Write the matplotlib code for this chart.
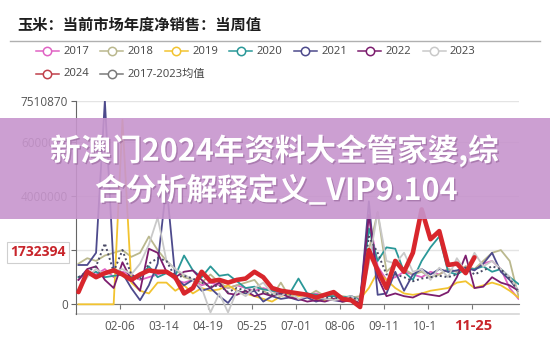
import numpy as np
import matplotlib.pyplot as plt
import matplotlib.patheffects as pe
from matplotlib.lines import Line2D
from matplotlib.patches import Rectangle

plt.rcParams['font.family'] = ['Open Sans', 'Noto Sans CJK SC', 'DejaVu Sans']

MT = 1e6  # values below are in million tonnes

tick_labels = ['02-06', '03-14', '04-19', '05-25', '07-01', '08-06', '09-11', '10-16', '11-20']
current_week = '11-25'

y2017 = [0.9, 1.2, 1.1, 1.3, 1.0, 1.2, 1.1, 0.9, 1.0, 1.1, 1.2, 0.9, 0.8, 0.9, 0.7, 0.8, 0.7,
         0.6, 0.7, 0.6, 0.5, 0.6, 0.5, 0.4, 0.5, 0.4, 0.3, 0.4, 0.3, 0.3, 0.2, 0.3, 0.2, 3.3,
         1.4, 0.9, 1.0, 1.2, 1.1, 1.0, 1.2, 1.1, 1.3, 1.2, 1.4, 1.3, 1.5, 1.6, 1.3, 0.6, 0.2]
y2018 = [1.5, 1.7, 1.6, 1.8, 1.9, 2.0, 1.75, 1.9, 2.5, 2.0, 1.6, 1.3, 1.0, 0.9, 0.8, 1.1, 0.8,
         0.6, 0.7, 0.8, 0.9, 0.5, 0.3, 0.8, 0.25, 0.4, 0.3, 0.5, 0.3, 0.35, 0.3, 0.25, 0.3, 2.0,
         3.4, 1.2, 1.5, 1.3, 1.1, 1.2, 1.0, 1.1, 1.3, 1.2, 1.4, 1.3, 1.6, 1.9, 2.0, 1.6, 0.3]
y2019 = [0.0, 0.0, 0.0, 0.0, 0.0, 6.8, 0.8, 0.5, 0.4, 0.8, 0.8, 0.5, 0.7, 0.4, 0.6, 0.5, 0.55,
         0.7, 0.5, 0.4, 0.3, 0.2, 0.1, 0.3, 0.4, 0.3, 0.35, 0.2, 0.15, 0.2, 0.1, 0.15, 0.2, 0.6,
         1.2, 0.9, 0.6, 0.4, 0.35, 0.4, 0.5, 0.55, 0.6, 0.8, 0.85, 0.6, 0.7, 0.8, 0.7, 0.5, 0.25]
y2020 = [1.0, 1.1, 1.2, 1.0, 1.05, 1.1, 1.0, 1.0, 1.4, 1.0, 1.15, 1.05, 1.8, 1.25, 1.0, 1.4,
         1.05, 1.1, 0.85, 0.6, 0.65, 0.55, 0.5, 0.45, 0.4, 0.95, 0.4, 0.35, 0.3, 0.3, 0.25, 0.3,
         0.15, 2.8, 1.6, 2.1, 2.05, 1.2, 0.9, 1.6, 2.1, 2.5, 1.2, 1.1, 1.3, 1.3, 1.4, 1.2, 1.3,
         1.0, 0.75]
y2021 = [1.45, 1.45, 1.9, 7.51087, 1.3, 1.15, 0.6, 0.15, 0.7, 1.5, 4.4, 1.0, 0.7, 0.9, 0.5,
         0.6, 0.3, 0.05, 0.5, 0.4, 0.5, 0.1, 0.3, 0.2, 0.25, 0.15, 0.25, 0.1, 0.2, 0.15, 0.1,
         0.15, 0.05, 3.8, 0.35, 0.4, 1.2, 0.5, 1.1, 1.3, 1.1, 1.3, 1.2, 1.25, 1.35, 1.25, 1.5,
         1.9, 1.2, 0.9, 0.5]
y2022 = [0.9, 1.3, 1.4, 0.9, 0.6, 1.55, 0.9, 0.5, 2.05, 1.9, 1.2, 1.0, 1.2, 1.25, 0.9, 0.6,
         0.8, 0.4, 0.35, 0.5, 0.3, 0.4, 0.3, 0.4, 0.25, 0.2, 0.1, 0.15, 0.1, 0.2, 0.1, 0.15, 0.05,
         3.3, 1.0, 0.3, 0.4, 0.3, 0.25, 0.4, 0.35, 0.3, 0.45, 1.0, 1.8, 0.6, 0.65, 1.0, 0.8, 0.7,
         0.5]
y2023 = [0.5, 1.0, 1.3, 1.1, 1.2, 1.3, 1.1, 1.5, 2.2, 3.2, 1.6, 1.3, 1.1, 0.9, 0.6, -0.3, 0.4,
         -0.3, 0.5, 0.3, 0.6, 0.8, 0.4, 0.3, 0.5, 0.2, 0.3, 0.25, 0.2, 0.15, 0.2, 0.3, 0.1, 1.5,
         3.4, 1.6, 1.5, 1.9, 1.2, 1.3, 0.9, 1.35, 1.0, 1.7, 1.2, 1.9, 1.4, 1.6, 1.3, 1.0, 0.5]
y2024 = [0.45, 1.2, 1.0, 1.15, 1.25, 1.1, 0.9, 1.1, 1.25, 1.2, 1.2, 1.0, 0.4, 0.6, 1.2, 0.85,
         0.9, 0.8, 0.9, 0.95, 1.2, 1.0, 0.6, 0.5, 0.45, 0.4, 0.35, 0.25, 0.35, 0.45, 0.2, 0.15,
         -0.1, 2.0, 1.25, 0.6, 1.6, 1.2, 1.9, 3.5, 2.4, 2.7, 1.45, 1.5, 1.15, 1.732394]
y_mean = [1.0, 1.2, 1.4, 2.25, 1.2, 2.0, 1.1, 0.9, 1.5, 1.7, 1.6, 1.0, 1.05, 0.95, 0.8, 0.65,
          0.7, 0.45, 0.6, 0.5, 0.55, 0.45, 0.35, 0.4, 0.35, 0.4, 0.3, 0.3, 0.25, 0.25, 0.2, 0.25,
          0.15, 2.5, 1.9, 1.1, 1.1, 1.0, 0.85, 0.95, 1.0, 1.05, 1.0, 1.1, 1.35, 1.1, 1.25, 1.4,
          1.3, 0.95, 0.45]

series = [
    ('2017', y2017, '#e063c4'),
    ('2018', y2018, '#bab88e'),
    ('2019', y2019, '#f2c330'),
    ('2020', y2020, '#2a9898'),
    ('2021', y2021, '#4d4a8c'),
    ('2022', y2022, '#7c1d6e'),
    ('2023', y2023, '#c9c9c9'),
]
red = '#d8262c'
mean_color = '#4a4a66'

W, H = 550, 339
fig = plt.figure(figsize=(W / 100, H / 100), dpi=100)


def fx(px):
    return px / W


def fy(py):
    return 1 - py / H


ax = fig.add_axes([fx(76), fy(314), fx(519) - fx(76), fy(100.7) - fy(314)])

x = np.arange(len(y2017))
x_left = -0.28
for name, vals, col in series:
    ax.plot(x, np.array(vals) * MT, color=col, lw=1.3, zorder=3)
ax.plot(x, np.array(y_mean) * MT, color=mean_color, lw=1.4, ls=(0, (1, 1.4)), zorder=3.5)
ax.plot(x[:len(y2024)], np.array(y2024) * MT, color=red, lw=3.3, zorder=5,
        solid_joinstyle='round', solid_capstyle='round')

ymax = max(y2021) * MT
ybot = -0.358 * MT
ax.set_ylim(ybot, ymax)
ax.set_xlim(x_left, 50.06)

# the 2M label sits under the current-value tag, so it is left blank
ax.set_yticks([0, 2e6, 4e6, 6e6, ymax])
ax.set_yticklabels(['0', '', '4000000', '6000000', '7510870'])
ax.yaxis.grid(True, color='#e4e4e4', lw=1)
ax.set_axisbelow(True)

ax.set_xticks(np.arange(5, 50, 5) + x_left)
ax.set_xticklabels(tick_labels)

for s in ['top', 'right']:
    ax.spines[s].set_visible(False)
ax.spines['left'].set_color('#666666')
ax.spines['bottom'].set_position(('data', 0))
ax.spines['bottom'].set_color('#777777')
ax.axhline(ybot, color='#d6d6d6', lw=1.2, clip_on=False)
ax.tick_params(axis='x', length=3.6, color='#777777', labelsize=8.5, labelcolor='#555555', pad=7.5)
ax.tick_params(axis='y', length=3.6, color='#666666', labelsize=8.5, labelcolor='#555555', pad=2)

# value tag for the current week on the y axis
ax.annotate(f'{int(round(y2024[-1] * MT))}', xy=(0, y2024[-1] * MT),
            xycoords=ax.get_yaxis_transform(), xytext=(-27.5, 3.5), textcoords='offset points',
            ha='center', va='center', fontsize=10, fontweight='bold', color='#c8252b',
            bbox=dict(boxstyle='square,pad=0.22', fc='white', ec='#cfcfcf', lw=0.8), zorder=8,
            annotation_clip=False)

# current week label on the x axis, on a white strip over the regular labels
fig.add_artist(Rectangle((fx(436), fy(334)), fx(74), fy(318) - fy(334), transform=fig.transFigure,
                         facecolor='white', edgecolor='none', zorder=1))
fig.text(fx(473), fy(326), current_week, ha='center', va='center', fontsize=10.5,
         fontweight='bold', color='#c8252b', zorder=2)

# title and separator
fig.text(fx(17), fy(25), '玉米：当前市场年度净销售：当周值', fontsize=11, fontweight='bold',
         color='#1e1e1e', va='center', ha='left', family=['Noto Sans CJK SC'])
fig.add_artist(Line2D([fx(10), fx(540)], [fy(40.7), fy(40.7)], color='#b0b0b0', lw=1))

# legend
legend_items = [(n, c) for n, _, c in series] + [('2024', '#c0404a'), ('2017-2023均值', '#7a7a7a')]
for k, (name, col) in enumerate(legend_items):
    row, colk = divmod(k, 7)
    cx = 47 + 64.5 * colk
    cy = 51 + 23 * row
    fig.add_artist(Line2D([fx(cx - 11.5), fx(cx + 11.5)], [fy(cy), fy(cy)], color=col, lw=1.1))
    fig.add_artist(Line2D([fx(cx)], [fy(cy)], marker='o', ms=6, mfc='white', mec=col, mew=1.1,
                          color=col))
    fig.text(fx(cx + 16), fy(cy), name, fontsize=8.1, color='#444444', va='center', ha='left')

# banner across the chart
fig.add_artist(Rectangle((0, fy(219)), 1, fy(118) - fy(219), transform=fig.transFigure,
                         facecolor='#c795cd', alpha=0.9, edgecolor='none', zorder=10))
shadow = [pe.SimplePatchShadow(offset=(1, -1), shadow_rgbFace='#6b3a70', alpha=0.35), pe.Normal()]
fig.text(fx(274), fy(151), '新澳门2024年资料大全管家婆,综', fontsize=22, fontweight='bold',
         color='white', ha='center', va='center', family=['Noto Sans CJK SC'], zorder=11,
         path_effects=shadow)
fig.text(fx(276), fy(191), '合分析解释定义_VIP9.104', fontsize=22, fontweight='bold',
         color='white', ha='center', va='center', family=['Noto Sans CJK SC'], zorder=11,
         path_effects=shadow)

fig.savefig('out.png', dpi=100)
